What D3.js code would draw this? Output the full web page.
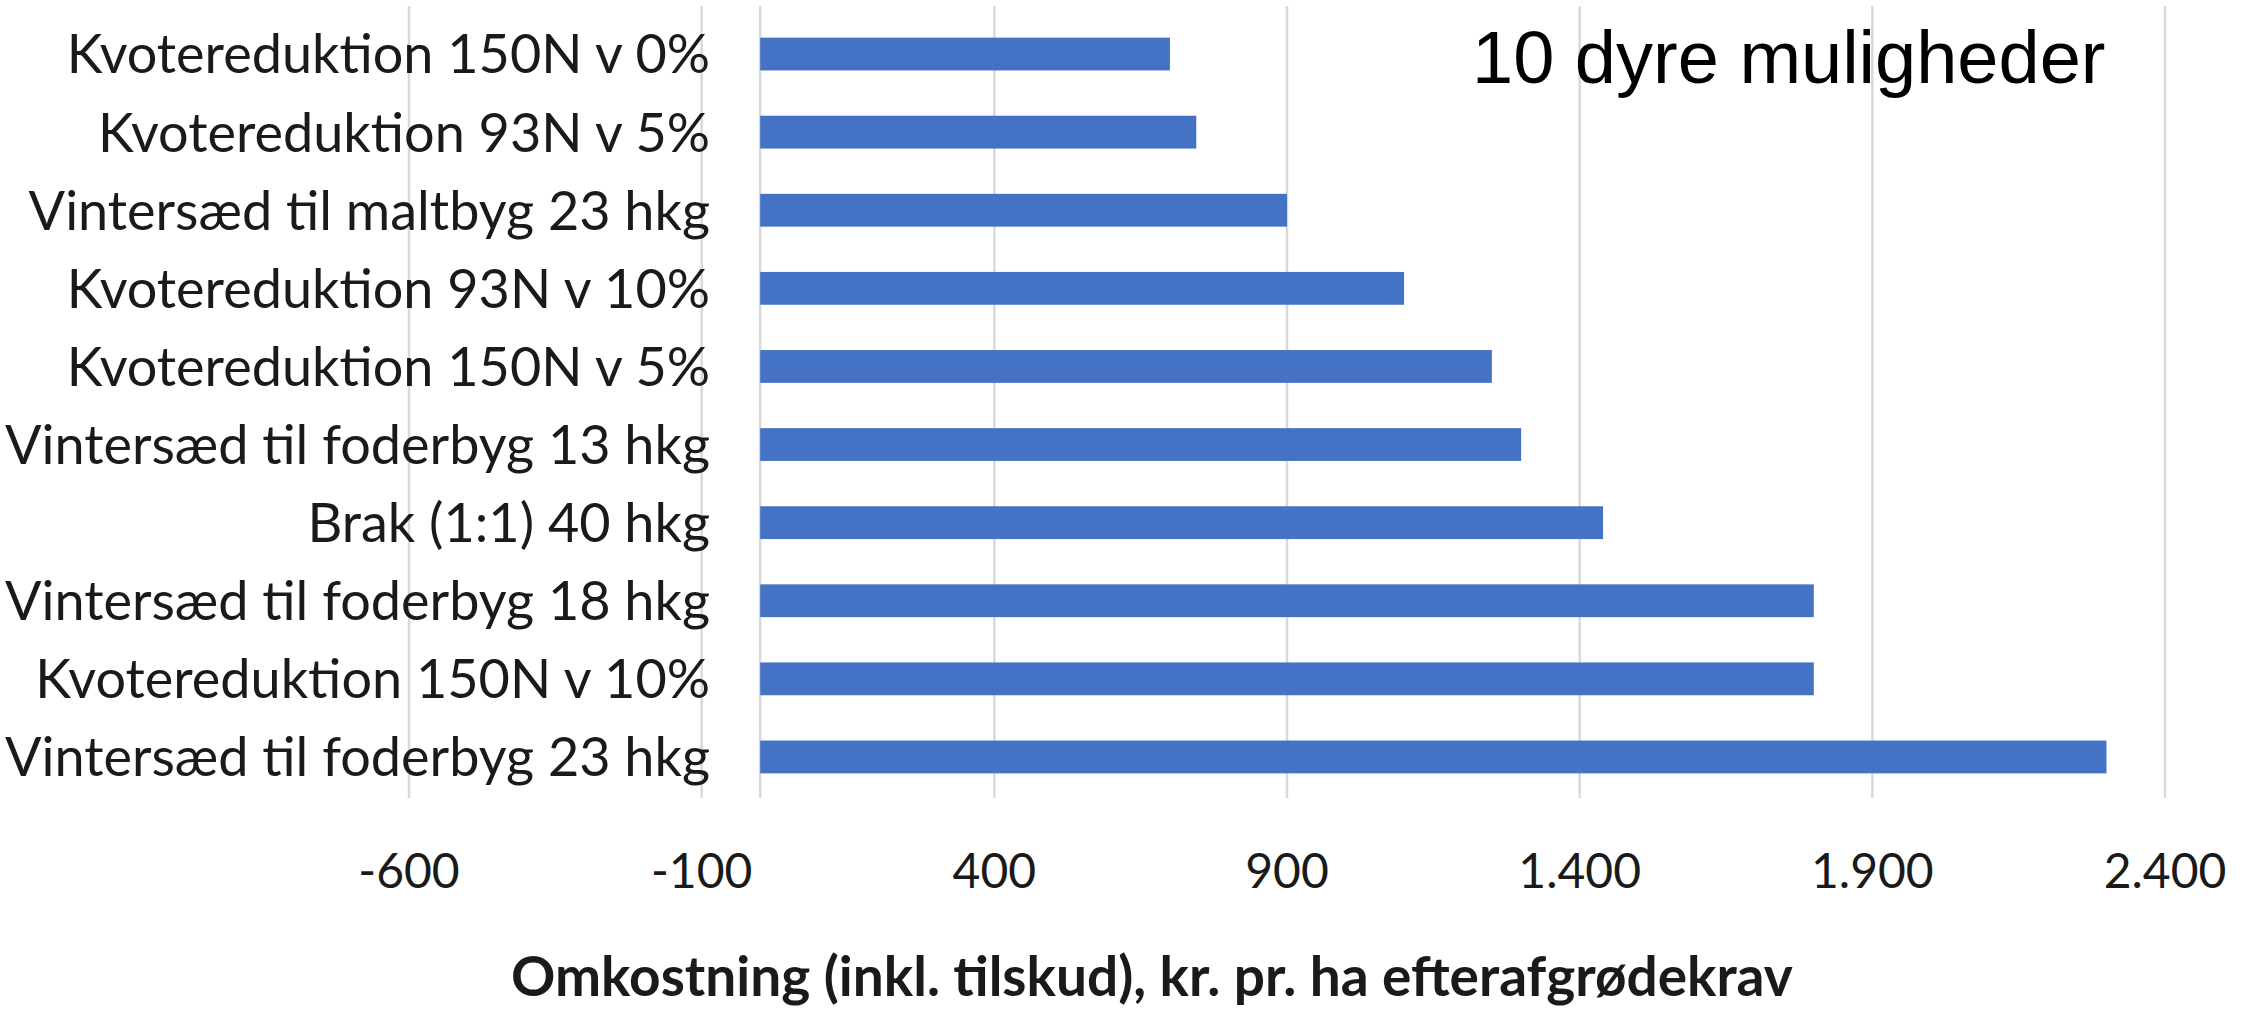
<!DOCTYPE html>
<html>
<head>
<meta charset="utf-8">
<script src="https://cdn.jsdelivr.net/npm/d3@7"></script>
<style>
  html, body { margin: 0; padding: 0; background: #ffffff; }
  svg { display: block; }
</style>
</head>
<body>
<svg id="chart" width="2241" height="1010"></svg>
<script>
// ---- data (top to bottom as shown) ----
const categories = [
  "Kvotereduktion 150N v 0%",
  "Kvotereduktion 93N v 5%",
  "Vintersæd til maltbyg 23 hkg",
  "Kvotereduktion 93N v 10%",
  "Kvotereduktion 150N v 5%",
  "Vintersæd til foderbyg 13 hkg",
  "Brak (1:1) 40 hkg",
  "Vintersæd til foderbyg 18 hkg",
  "Kvotereduktion 150N v 10%",
  "Vintersæd til foderbyg 23 hkg"
];
const values = [700, 745, 900, 1100, 1250, 1300, 1440, 1800, 1800, 2300];
const xTicks = [-600, -100, 400, 900, 1400, 1900, 2400];
const xDomain = [-600, 2400];
const chartTitle = "10 dyre muligheder";
const axisTitle = "Omkostning (inkl. tilskud), kr. pr. ha efterafgrødekrav";

// ---- layout ----
const svg = d3.select("#chart");
const plotLeft = 409, plotRight = 2165, plotTop = 6, plotBottom = 798;

const x = d3.scaleLinear().domain(xDomain).range([plotLeft, plotRight]);
const y = d3.scaleBand().domain(categories).range([15, 796])
  .paddingInner(0.58).paddingOuter(0.29);

const locale = d3.formatLocale({decimal: ",", thousands: ".", grouping: [3], currency: ["", " kr"], minus: "-"});
const fmt = locale.format(",");

// gridlines
svg.append("g").selectAll("line").data(xTicks).join("line")
  .attr("x1", d => x(d)).attr("x2", d => x(d))
  .attr("y1", plotTop).attr("y2", plotBottom)
  .attr("stroke", "#d9d9d9").attr("stroke-width", 2.5);

// category axis line at zero
svg.append("line")
  .attr("x1", x(0)).attr("x2", x(0))
  .attr("y1", plotTop).attr("y2", plotBottom)
  .attr("stroke", "#d9d9d9").attr("stroke-width", 2.5);

// bars
svg.append("g").selectAll("rect").data(categories).join("rect")
  .attr("x", x(0))
  .attr("y", d => y(d))
  .attr("width", (d, i) => x(values[i]) - x(0))
  .attr("height", y.bandwidth())
  .attr("fill", "#4472C4");

// category labels
svg.append("g").selectAll("text").data(categories).join("text")
  .attr("x", 710)
  .attr("y", d => y(d) + y.bandwidth() / 2)
  .attr("dy", "0.36em")
  .attr("text-anchor", "end")
  .attr("font-family", "Lato, 'Open Sans', sans-serif")
  .attr("font-size", 54)
  .attr("fill", "#1a1a1a")
  .text(d => d);

// x tick labels
svg.append("g").selectAll("text").data(xTicks).join("text")
  .attr("x", d => x(d))
  .attr("y", 888)
  .attr("text-anchor", "middle")
  .attr("font-family", "Lato, 'Open Sans', sans-serif")
  .attr("font-size", 48)
  .attr("fill", "#1a1a1a")
  .text(d => fmt(d));

// axis title
svg.append("text")
  .attr("x", 1152)
  .attr("y", 996)
  .attr("text-anchor", "middle")
  .attr("font-family", "Lato, 'Open Sans', sans-serif")
  .attr("font-weight", "bold")
  .attr("font-size", 55)
  .attr("fill", "#1a1a1a")
  .text(axisTitle);

// chart title
svg.append("text")
  .attr("x", 1472)
  .attr("y", 83)
  .attr("text-anchor", "start")
  .attr("font-family", "'Liberation Sans', Arial, sans-serif")
  .attr("font-size", 74)
  .attr("fill", "#000000")
  .text(chartTitle);
</script>
</body>
</html>
